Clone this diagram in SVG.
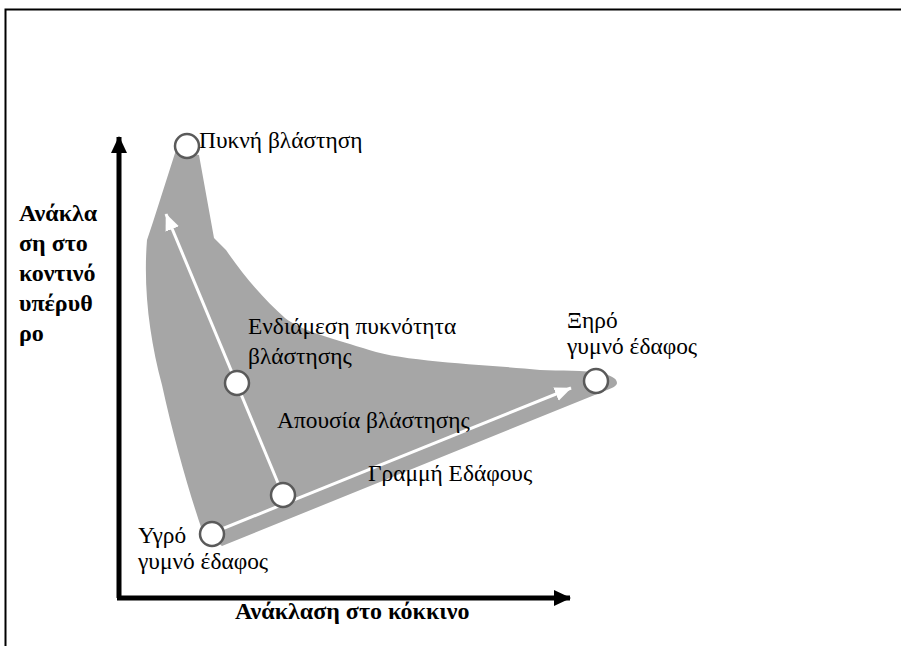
<svg xmlns="http://www.w3.org/2000/svg" width="901" height="646" viewBox="0 0 901 646">
  <style>
    .lbl { font-family: "Liberation Serif", "Times New Roman", serif; font-size: 23.4px; fill: #000; }
    .axl { font-family: "Liberation Serif", "Times New Roman", serif; font-size: 24px; font-weight: bold; fill: #000; }
    .pt { fill: #fff; stroke: #5a5a5a; stroke-width: 2.5; }
    .axis { stroke: #000; stroke-width: 5; fill: none; }
    .trend { stroke: #fff; stroke-width: 3; fill: none; }
  </style>
  <defs>
    <marker id="blackHead" markerWidth="4" markerHeight="4" refX="3.2" refY="2" orient="auto" markerUnits="strokeWidth">
      <path d="M0,0.4 L3.4,2 L0,3.6 Z" fill="#000"/>
    </marker>
    <marker id="whiteHead" markerWidth="6" markerHeight="6" refX="5.4" refY="3" orient="auto" markerUnits="strokeWidth">
      <path d="M0,0.6 L5.6,3 L0,5.4 Z" fill="#fff"/>
    </marker>
  </defs>

  <rect width="901" height="646" fill="#fff"/>

  <!-- frame: top and left edges -->
  <path d="M5.5,646 V9.5 H901" fill="none" stroke="#000" stroke-width="2"/>

  <!-- spread of pixel values -->
  <path id="scatter" fill="#a6a6a6" d="M176,150
    L153,222 L147,240
    C143,290 150,340 162,385
    C174,440 190,495 202,530
    L222,546
    L607,390
    C612,388 617,386 617,383
    C617,378 610,375 600,373
    C585,370 560,371 540,370
    C480,364 400,362 363,348
    C330,338 300,330 285,318
    C265,300 245,278 226,250
    L214,238
    L199,155 Z"/>

  <!-- axes -->
  <g id="axes">
    <path class="axis" d="M119,598 V137" marker-end="url(#blackHead)"/>
    <path class="axis" d="M117,598 H570" marker-end="url(#blackHead)"/>
  </g>

  <!-- trend arrows -->
  <g id="connectors">
    <path class="trend" d="M283,495 L166,214" marker-end="url(#whiteHead)"/>
    <path class="trend" d="M212,533 L571,388" marker-end="url(#whiteHead)"/>
  </g>

  <g id="dense-vegetation">
    <circle class="pt" cx="187" cy="146" r="12"/>
    <text class="lbl" x="199" y="148">Πυκνή βλάστηση</text>
  </g>
  <g id="intermediate-vegetation">
    <circle class="pt" cx="237" cy="383" r="12"/>
    <text class="lbl" x="248" y="334">Ενδιάμεση πυκνότητα</text>
    <text class="lbl" x="248" y="364">βλάστησης</text>
  </g>
  <g id="no-vegetation">
    <circle class="pt" cx="283" cy="495" r="12"/>
    <text class="lbl" x="277" y="428">Απουσία βλάστησης</text>
  </g>
  <g id="soil-line">
    <text class="lbl" x="368" y="481">Γραμμή Εδάφους</text>
  </g>
  <g id="wet-soil">
    <circle class="pt" cx="212" cy="534" r="12"/>
    <text class="lbl" x="138" y="543">Υγρό</text>
    <text class="lbl" x="138" y="569">γυμνό έδαφος</text>
  </g>
  <g id="dry-soil">
    <circle class="pt" cx="596" cy="381" r="12"/>
    <text class="lbl" x="567" y="328">Ξηρό</text>
    <text class="lbl" x="567" y="354">γυμνό έδαφος</text>
  </g>

  <g id="y-axis-label">
    <text class="axl" x="19" y="221">Ανάκλα</text>
    <text class="axl" x="19" y="251">ση στο</text>
    <text class="axl" x="19" y="281">κοντινό</text>
    <text class="axl" x="19" y="311">υπέρυθ</text>
    <text class="axl" x="19" y="341">ρο</text>
  </g>
  <g id="x-axis-label">
    <text class="axl" x="235" y="619">Ανάκλαση στο κόκκινο</text>
  </g>
</svg>
